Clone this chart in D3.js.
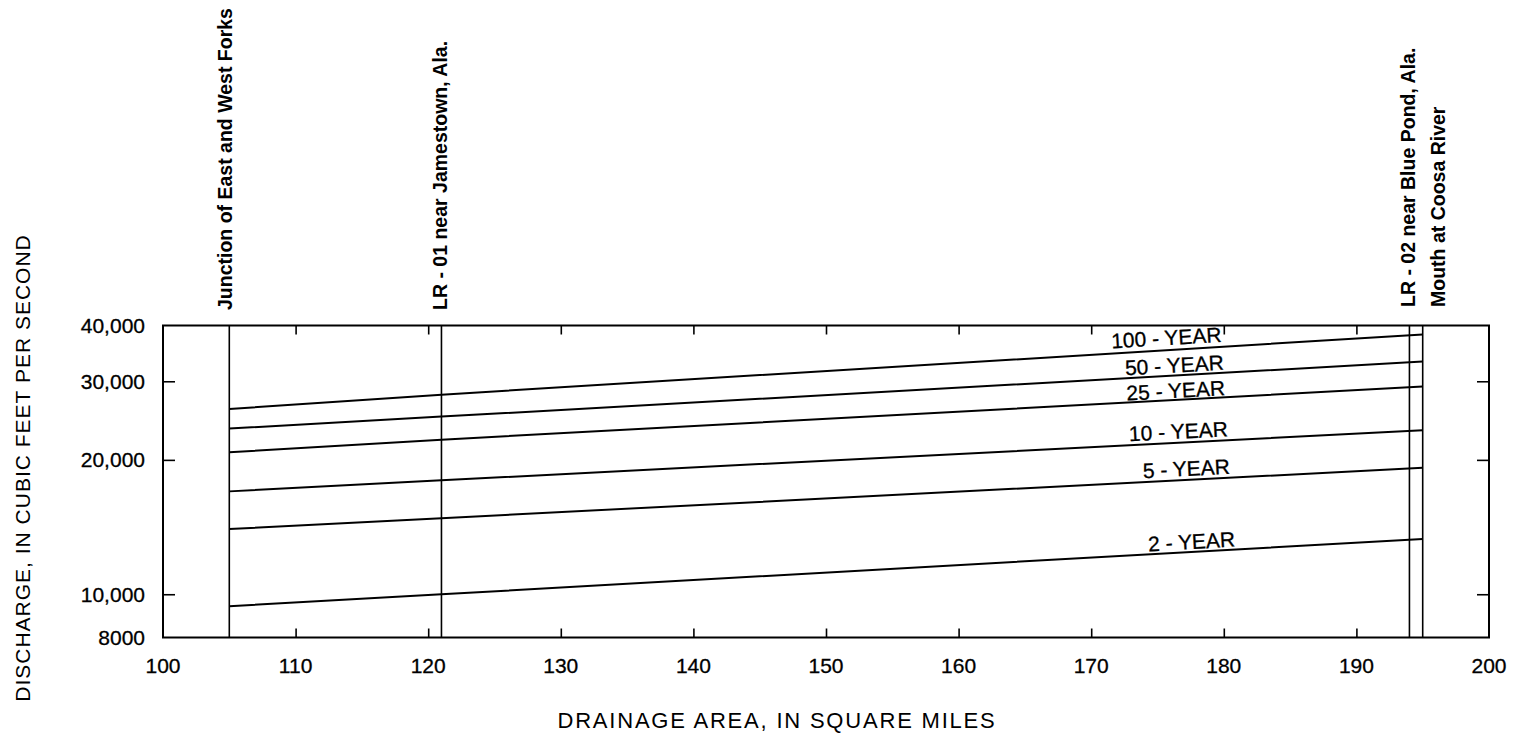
<!DOCTYPE html>
<html>
<head>
<meta charset="utf-8">
<script src="https://cdn.jsdelivr.net/npm/d3@7"></script>
<style>
  html, body { margin: 0; padding: 0; background: #fff; }
  svg { display: block; }
  text { font-family: "Liberation Sans", Arial, Helvetica, sans-serif; fill: #000; }
</style>
</head>
<body>
<svg id="chart" width="1522" height="737"></svg>
<script>
// Sites along the stream (drainage area, square miles)
const siteNames = [
  "Junction of East and West Forks",
  "LR - 01 near Jamestown, Ala.",
  "LR - 02 near Blue Pond, Ala.",
  "Mouth at Coosa River"
];
const siteAreas = [105, 121, 194, 195];

// Drainage areas where the flood-frequency curves are defined
const curveAreas = [105, 121, 195];

// Peak discharge, cubic feet per second, for each recurrence interval
const seriesNames = ["100 - YEAR", "50 - YEAR", "25 - YEAR", "10 - YEAR", "5 - YEAR", "2 - YEAR"];
const q100 = [26000, 28000, 38200];
const q50  = [23500, 25000, 33200];
const q25  = [20800, 22200, 29200];
const q10  = [17000, 18000, 23300];
const q5   = [14000, 14800, 19200];
const q2   = [9400, 10000, 13300];
const seriesValues = [q100, q50, q25, q10, q5, q2];

// Axis ticks
const xTicks = [100, 110, 120, 130, 140, 150, 160, 170, 180, 190, 200];
const yTicks = [8000, 10000, 20000, 30000, 40000];
const yTickLabels = ["8000", "10,000", "20,000", "30,000", "40,000"];
const yInnerTicks = [10000, 20000, 30000];

// Layout
const plot = { left: 163, right: 1489, top: 325.5, bottom: 637.5 };
const siteLabelDx = [3, 6, 6, 22];       // baseline offset of each rotated site label
const seriesLabelAt = [175.7, 176.3, 176.4, 176.6, 177.2, 177.6]; // drainage area at label centre
const seriesLabelLift = [5, 3, 2, 4, 4, 3];

const svg = d3.select("#chart");

const x = d3.scaleLinear().domain([100, 200]).range([plot.left, plot.right]);
const y = d3.scaleLog().domain([8000, 40000]).range([plot.bottom, plot.top]);

// Inner tick marks along the top and bottom edges
const xAxisBottom = d3.axisBottom(x).tickValues(xTicks.slice(1, -1)).tickSize(-9).tickFormat("");
const xAxisTop = d3.axisTop(x).tickValues(xTicks.slice(1, -1)).tickSize(-9).tickFormat("");
const yAxisLeft = d3.axisLeft(y).tickValues(yInnerTicks).tickSize(-12).tickFormat("");
const yAxisRight = d3.axisRight(y).tickValues(yInnerTicks).tickSize(-12).tickFormat("");

function styleAxis(g) {
  g.select(".domain").remove();
  g.selectAll(".tick line").attr("stroke", "#000").attr("stroke-width", 1.6);
}
svg.append("g").attr("transform", `translate(0,${plot.bottom})`).call(xAxisBottom).call(styleAxis);
svg.append("g").attr("transform", `translate(0,${plot.top})`).call(xAxisTop).call(styleAxis);
svg.append("g").attr("transform", `translate(${plot.left},0)`).call(yAxisLeft).call(styleAxis);
svg.append("g").attr("transform", `translate(${plot.right},0)`).call(yAxisRight).call(styleAxis);

// Plot frame
svg.append("rect")
  .attr("x", plot.left).attr("y", plot.top)
  .attr("width", plot.right - plot.left).attr("height", plot.bottom - plot.top)
  .attr("fill", "none").attr("stroke", "#000").attr("stroke-width", 2);

// Tick labels
svg.append("g").selectAll("text").data(xTicks).join("text")
  .attr("x", d => x(d)).attr("y", 673)
  .attr("text-anchor", "middle").attr("font-size", 21)
  .attr("stroke", "#000").attr("stroke-width", 0.3)
  .text(d => d);

svg.append("g").selectAll("text").data(yTicks).join("text")
  .attr("x", 145).attr("y", d => y(d))
  .attr("dy", "0.36em")
  .attr("text-anchor", "end").attr("font-size", 21)
  .attr("stroke", "#000").attr("stroke-width", 0.3)
  .text((d, i) => yTickLabels[i]);

// Axis titles
svg.append("text")
  .attr("x", 777).attr("y", 728)
  .attr("text-anchor", "middle").attr("font-size", 22)
  .attr("letter-spacing", 1.8)
  .text("DRAINAGE AREA, IN SQUARE MILES");

svg.append("text")
  .attr("transform", "translate(30,468) rotate(-90)")
  .attr("text-anchor", "middle").attr("font-size", 21)
  .attr("letter-spacing", 1.0)
  .text("DISCHARGE, IN CUBIC FEET PER SECOND");

// Site lines and their labels
svg.append("g").selectAll("line").data(siteAreas).join("line")
  .attr("x1", d => x(d)).attr("x2", d => x(d))
  .attr("y1", plot.top).attr("y2", plot.bottom)
  .attr("stroke", "#000").attr("stroke-width", 1.6);

svg.append("g").selectAll("text").data(siteNames).join("text")
  .attr("transform", (d, i) => `translate(${x(siteAreas[i]) + siteLabelDx[i]},${i < 2 ? 310 : 307}) rotate(-90)`)
  .attr("font-size", 19.5).attr("font-weight", "bold")
  .text(d => d);

// Frequency curves
const line = d3.line().x(d => x(d[0])).y(d => y(d[1]));
svg.append("g").selectAll("path").data(seriesValues).join("path")
  .attr("d", vals => line(curveAreas.map((a, i) => [a, vals[i]])))
  .attr("fill", "none").attr("stroke", "#000").attr("stroke-width", 2);

// Curve labels set along the upper segment of each curve
seriesNames.forEach((name, i) => {
  const vals = seriesValues[i];
  const x1 = x(curveAreas[1]), y1 = y(vals[1]);
  const x2 = x(curveAreas[2]), y2 = y(vals[2]);
  const cx = x(seriesLabelAt[i]);
  const cy = y1 + (y2 - y1) * (cx - x1) / (x2 - x1);
  const angle = Math.atan2(y2 - y1, x2 - x1) * 180 / Math.PI;
  svg.append("text")
    .attr("transform", `translate(${cx},${cy - seriesLabelLift[i]}) rotate(${angle})`)
    .attr("text-anchor", "middle").attr("font-size", 21)
    .attr("stroke", "#000").attr("stroke-width", 0.3)
    .text(name);
});
</script>
</body>
</html>
